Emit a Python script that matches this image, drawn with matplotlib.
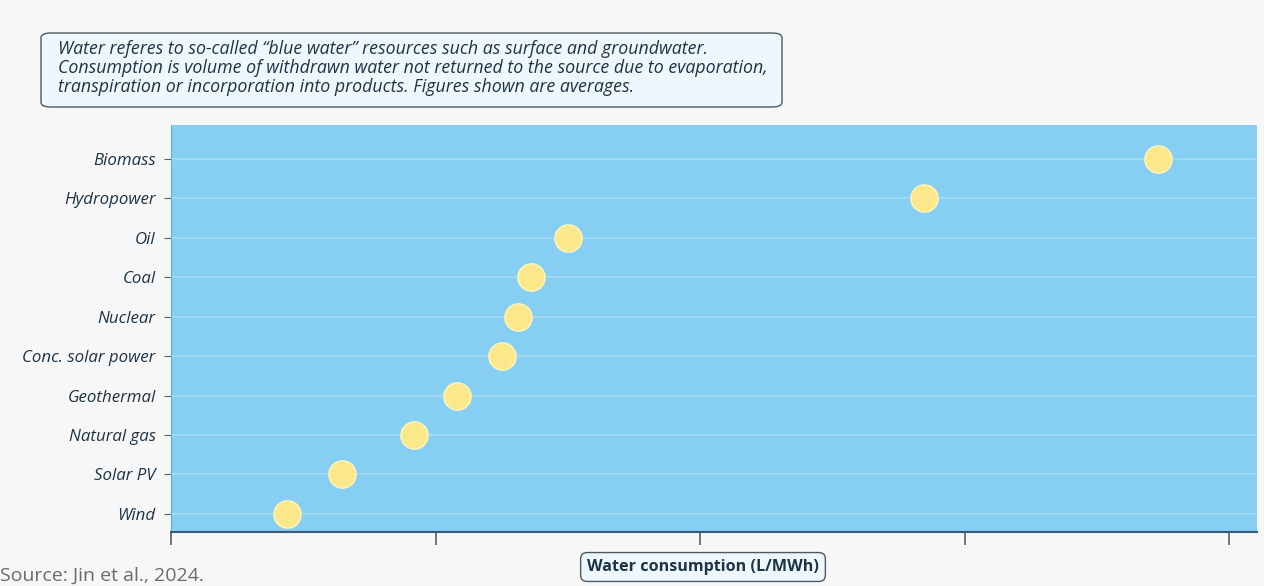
import matplotlib.pyplot as plt
from matplotlib.patches import FancyBboxPatch

# data (L/MWh, axis has no tick labels)
sources = ['Wind', 'Solar PV', 'Natural gas', 'Geothermal', 'Conc. solar power',
           'Nuclear', 'Coal', 'Oil', 'Hydropower', 'Biomass']
consumption = [440, 645, 920, 1080, 1250, 1310, 1360, 1500, 2845, 3730]
x_ticks = [0, 1000, 2000, 3000, 4000]

note = ('Water referes to so-called \u201cblue water\u201d resources such as surface and groundwater.\n'
        'Consumption is volume of withdrawn water not returned to the source due to evaporation,\n'
        'transpiration or incorporation into products. Figures shown are averages.')

plt.rcParams['font.family'] = ['Open Sans', 'DejaVu Sans']
W, H = 1264, 586
fig = plt.figure(figsize=(W / 100, H / 100), dpi=100, facecolor='#f7f7f7')
ax = fig.add_axes([171 / W, 1 - 532 / H, (1257 - 171) / W, (532 - 125) / H])
ax.set_facecolor('#86cff3')

ypos = list(range(len(sources)))
for y in ypos:
    ax.axhline(y, color='#a6dcf6', lw=1.1, zorder=1)
ax.scatter(consumption, ypos, s=380, color='#fbe88a', edgecolor='#fdf2b8',
           linewidth=1.2, zorder=3)

ax.set_xlim(0, 4105)
ax.set_ylim(-0.46, 9.86)
ax.set_yticks(ypos)
ax.set_yticklabels(sources, fontsize=12.2, style='italic', color='#1e3445')
ax.set_xticks(x_ticks)
ax.set_xticklabels([])
ax.tick_params(axis='y', length=5, color='#55606a', pad=6)
ax.tick_params(axis='x', length=9, color='#55606a', width=1.2)
for s in ['top', 'right']:
    ax.spines[s].set_visible(False)
ax.spines['bottom'].set_color('#3b5a78')
ax.spines['bottom'].set_linewidth(1.5)
ax.spines['left'].set_color('#5aaed8')

# note box
fig.patches.append(FancyBboxPatch((41 / W, 1 - 107 / H), (782 - 41) / W, (107 - 33) / H,
                                  boxstyle='round,pad=0,rounding_size=0.008',
                                  transform=fig.transFigure, facecolor='#eef7fc',
                                  edgecolor='#4a5a66', lw=1))
fig.text(58 / W, 1 - 68 / H, note, fontsize=12.8, style='italic', color='#1e3445',
         va='center', ha='left', linespacing=1.05)

# x-axis label box
fig.text(703 / W, 1 - 567 / H, 'Water consumption (L/MWh)', fontsize=11.6, weight='bold',
         color='#1e3445', ha='center', va='center',
         bbox=dict(boxstyle='round,pad=0.4,rounding_size=0.4', facecolor='#eef7fc',
                   edgecolor='#4a5a66', lw=1))

fig.text(0, 1 - 576 / H, 'Source: Jin et al., 2024.', fontsize=14, color='#6b6b6b',
         ha='left', va='center')

fig.savefig('out.png', dpi=100, facecolor=fig.get_facecolor())
